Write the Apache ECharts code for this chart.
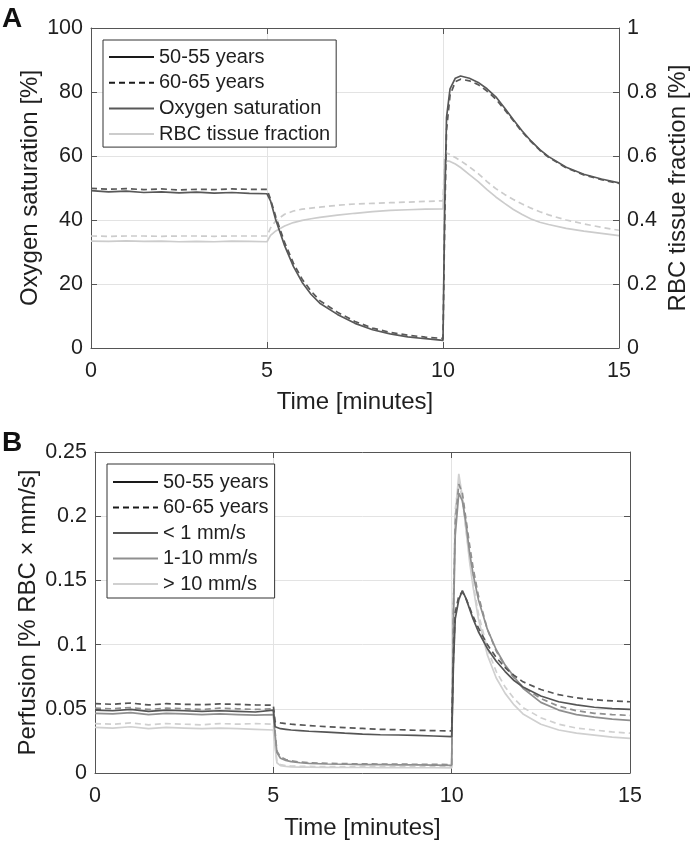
<!DOCTYPE html>
<html><head><meta charset="utf-8">
<script src="https://cdn.jsdelivr.net/npm/echarts@6/dist/echarts.min.js"></script>
<style>html,body{margin:0;padding:0;background:#fff}#c{width:698px;height:846px}</style>
</head><body><div id="c"></div>
<script>
// ---------- Panel A data ----------
const timeA = [0,0.5,1,1.5,2,2.5,3,3.5,4,4.5,5,
  5.1,5.25,5.5,5.75,6,6.25,6.5,7,7.5,8,8.5,9,9.5,10,
  10.05,10.1,10.2,10.35,10.5,10.75,11,11.25,11.5,11.75,12,12.25,12.5,12.75,13,13.5,14,14.5,15];
const sat5055 = [49.2,48.8,49.0,48.6,48.8,48.5,48.7,48.4,48.6,48.3,48.2,
  46,40,32,25.5,20.5,16.8,14,10.5,7.7,5.7,4.4,3.5,2.9,2.4,
  45,72,81,84.3,85,84.3,83,81,78.5,75,71.3,67.8,64.7,62,59.8,56.5,54.3,52.8,51.6];
const sat6065 = [49.9,49.6,49.8,49.5,49.7,49.4,49.6,49.5,49.7,49.6,49.6,
  46.5,41,33,26.5,21.5,17.8,14.8,11.2,8.3,6.2,4.9,4.0,3.4,3.0,
  40,68,79,83.2,84,83.5,82.3,80.3,77.8,74.5,71,67.5,64.5,61.8,59.6,56.3,54.1,52.6,51.4];
const rbc5055 = [0.334,0.333,0.335,0.333,0.334,0.332,0.333,0.332,0.334,0.333,0.332,
  0.352,0.366,0.381,0.392,0.399,0.404,0.408,0.415,0.421,0.426,0.430,0.432,0.434,0.435,
  0.575,0.585,0.583,0.575,0.564,0.542,0.520,0.495,0.472,0.452,0.433,0.417,0.403,0.393,0.386,0.374,0.365,0.358,0.351];
const rbc6065 = [0.350,0.349,0.350,0.350,0.349,0.350,0.350,0.349,0.350,0.350,0.350,
  0.375,0.398,0.418,0.428,0.434,0.437,0.440,0.446,0.450,0.452,0.454,0.456,0.458,0.460,
  0.600,0.609,0.605,0.595,0.585,0.566,0.545,0.520,0.498,0.480,0.464,0.450,0.437,0.426,0.416,0.400,0.388,0.377,0.368];

// ---------- Panel B data ----------
const timeB = [0,0.5,1,1.5,2,2.5,3,3.5,4,4.5,5,
  5.05,5.1,5.2,5.35,5.5,5.75,6,6.5,7,7.5,8,8.5,9,9.5,10,
  10.05,10.1,10.2,10.3,10.4,10.5,10.6,10.75,11,11.25,11.5,11.75,12,12.5,13,13.5,14,14.5,15];
const low5055 = [0.049,0.0485,0.0495,0.048,0.049,0.0485,0.048,0.0485,0.048,0.0475,0.049,
  0.036,0.035,0.0345,0.034,0.0335,0.033,0.0325,0.0318,0.031,0.0303,0.0298,0.0296,0.0293,0.0288,0.0283,
  0.085,0.12,0.135,0.142,0.136,0.128,0.12,0.11,0.097,0.087,0.079,0.072,0.067,0.06,0.0555,0.053,0.0512,0.0502,0.0495];
const low6065 = [0.054,0.0535,0.0545,0.053,0.054,0.0535,0.0532,0.0538,0.0535,0.053,0.0528,
  0.04,0.0393,0.039,0.0385,0.038,0.0375,0.037,0.036,0.0353,0.0347,0.034,0.0337,0.0333,0.033,0.0327,
  0.09,0.125,0.138,0.141,0.136,0.129,0.122,0.113,0.1,0.09,0.082,0.076,0.071,0.065,0.061,0.0585,0.057,0.0562,0.0555];
const mid5055 = [0.0465,0.046,0.047,0.0455,0.0465,0.046,0.0455,0.046,0.0455,0.045,0.0455,
  0.03,0.016,0.0115,0.0098,0.0088,0.008,0.0075,0.007,0.0068,0.0066,0.0065,0.0064,0.0063,0.0062,0.006,
  0.12,0.185,0.218,0.212,0.195,0.172,0.155,0.135,0.112,0.096,0.084,0.075,0.066,0.055,0.049,0.0455,0.0435,0.042,0.041];
const mid6065 = [0.0505,0.05,0.051,0.0495,0.0505,0.05,0.0495,0.0505,0.05,0.0495,0.05,
  0.032,0.017,0.0125,0.0105,0.0095,0.0085,0.008,0.0076,0.0073,0.0071,0.007,0.0069,0.0068,0.0067,0.0066,
  0.13,0.195,0.225,0.218,0.198,0.178,0.16,0.138,0.112,0.095,0.083,0.074,0.067,0.058,0.052,0.0485,0.0465,0.0455,0.0448];
const high5055 = [0.0355,0.035,0.036,0.0345,0.0355,0.035,0.0345,0.035,0.0345,0.034,0.0335,
  0.02,0.008,0.0058,0.0052,0.0048,0.0046,0.0045,0.0044,0.0043,0.0043,0.0042,0.0042,0.0041,0.0041,0.004,
  0.13,0.2,0.233,0.215,0.19,0.165,0.145,0.12,0.092,0.074,0.062,0.053,0.046,0.038,0.0335,0.031,0.0295,0.028,0.027];
const high6065 = [0.0385,0.038,0.039,0.0375,0.0385,0.038,0.0375,0.0385,0.038,0.0385,0.038,
  0.022,0.009,0.0065,0.0058,0.0054,0.0052,0.0051,0.005,0.005,0.0049,0.0049,0.0048,0.0048,0.0048,0.0047,
  0.14,0.205,0.228,0.212,0.19,0.168,0.148,0.124,0.097,0.079,0.067,0.058,0.051,0.043,0.038,0.035,0.0335,0.032,0.031];

// ---------- labels ----------
const legendA = ['50-55 years','60-65 years','Oxygen saturation','RBC tissue fraction'];
const legendB = ['50-55 years','60-65 years','< 1 mm/s','1-10 mm/s','> 10 mm/s'];

const FONT = "'Liberation Sans', Arial, Helvetica, sans-serif";
const textC = '#1f1f1f', axisC = '#555555', gridC = '#e3e3e3';
const cSat = '#585858', cRbc = '#cccccc';
const cLow = '#555555', cMid = '#8f8f8f', cHigh = '#d0d0d0';
const DASH = [6, 4];

function pairs(t, v) { return t.map((x, i) => [x, v[i]]); }
function line(name, xi, yi, t, v, color, dashed) {
  return { name, type: 'line', xAxisIndex: xi, yAxisIndex: yi, data: pairs(t, v),
    symbol: 'none', smooth: false, animation: false, silent: true,
    lineStyle: { color, width: 1.7, type: dashed ? DASH : 'solid' }, itemStyle: { color } };
}
function xAx(grid, pos, withLabels, gap) {
  return { gridIndex: grid, type: 'value', min: 0, max: 15, interval: 5, position: pos,
    axisLine: { show: true, onZero: false, lineStyle: { color: axisC, width: 1 } },
    axisTick: { show: true, inside: true, length: 6, lineStyle: { color: axisC } },
    axisLabel: { show: withLabels, fontSize: 21.5, color: textC, margin: 12, fontFamily: FONT },
    splitLine: { show: withLabels, lineStyle: { color: gridC, width: 1 } },
    name: withLabels ? 'Time [minutes]' : '', nameLocation: 'middle', nameGap: gap,
    nameTextStyle: { fontSize: 24, color: textC, fontFamily: FONT } };
}
function yAx(grid, pos, min, max, interval, name, withLabels, split, gap) {
  return { gridIndex: grid, type: 'value', min, max, interval, position: pos,
    axisLine: { show: true, onZero: false, lineStyle: { color: axisC, width: 1 } },
    axisTick: { show: true, inside: true, length: 6, lineStyle: { color: axisC } },
    axisLabel: { show: withLabels, fontSize: 21.5, color: textC, margin: 8, fontFamily: FONT },
    splitLine: { show: split, lineStyle: { color: gridC, width: 1 } },
    name, nameLocation: 'middle', nameGap: gap, nameMoveOverlap: false,
    nameTextStyle: { fontSize: 24, color: textC, fontFamily: FONT } };
}
const legendCommon = { orient: 'vertical', itemWidth: 45, itemHeight: 14, selectedMode: false,
  borderColor: '#333333', borderWidth: 1, backgroundColor: '#ffffff',
  itemStyle: { opacity: 0 },
  textStyle: { fontSize: 20, color: textC, fontFamily: FONT, lineHeight: 20 } };

const option = {
  animation: false,
  backgroundColor: '#ffffff',
  textStyle: { fontFamily: FONT },
  grid: [
    { left: 91, top: 28, width: 529, height: 320 },
    { left: 95, top: 452, width: 535, height: 321 }
  ],
  xAxis: [ xAx(0, 'bottom', true, 42), xAx(0, 'top', false, 10), xAx(1, 'bottom', true, 43), xAx(1, 'top', false, 10) ],
  yAxis: [
    yAx(0, 'left', 0, 100, 20, 'Oxygen saturation [%]', true, true, 49),
    yAx(0, 'right', 0, 1, 0.2, 'RBC tissue fraction [%]', true, false, 47),
    yAx(1, 'left', 0, 0.25, 0.05, 'Perfusion [% RBC × mm/s]', true, true, 55),
    yAx(1, 'right', 0, 0.25, 0.05, '', false, false, 10)
  ],
  legend: [
    Object.assign({}, legendCommon, { left: 103, top: 40, data: legendA, itemGap: 5.7, padding: [7, 6, 3, 5] }),
    Object.assign({}, legendCommon, { left: 107, top: 464, data: legendB, itemGap: 5.5, padding: [8, 6, 4, 5] })
  ],
  graphic: [
    { type: 'text', left: 2, top: 5, style: { text: 'A', font: 'bold 28px ' + FONT, fill: '#111' } },
    { type: 'text', left: 2, top: 429, style: { text: 'B', font: 'bold 28px ' + FONT, fill: '#111' } }
  ],
  series: [
    line('50-55 years', 0, 0, [], [], '#1a1a1a', false),
    line('60-65 years', 0, 0, [], [], '#1a1a1a', true),
    line('RBC tissue fraction', 0, 1, timeA, rbc5055, cRbc, false),
    line('RBC tissue fraction', 0, 1, timeA, rbc6065, cRbc, true),
    line('Oxygen saturation', 0, 0, timeA, sat5055, cSat, false),
    line('Oxygen saturation', 0, 0, timeA, sat6065, cSat, true),
    line('> 10 mm/s', 2, 2, timeB, high5055, cHigh, false),
    line('> 10 mm/s', 2, 2, timeB, high6065, cHigh, true),
    line('1-10 mm/s', 2, 2, timeB, mid5055, cMid, false),
    line('1-10 mm/s', 2, 2, timeB, mid6065, cMid, true),
    line('< 1 mm/s', 2, 2, timeB, low5055, cLow, false),
    line('< 1 mm/s', 2, 2, timeB, low6065, cLow, true)
  ]
};
const chart = echarts.init(document.getElementById('c'), null, { renderer: 'canvas' });
chart.setOption(option);
</script>
</body></html>
